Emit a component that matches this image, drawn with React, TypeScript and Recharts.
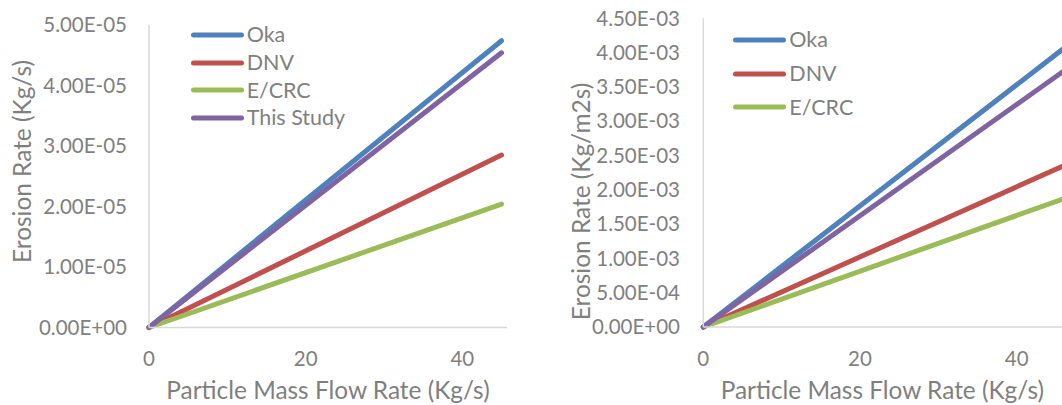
import React from 'react';
import { LineChart, Line, XAxis, YAxis, Legend } from 'recharts';

// ---- data ----
const seriesNames = ['Oka', 'DNV', 'E/CRC', 'This Study'];
const seriesColors = ['#4f81bd', '#c0504d', '#9bbb59', '#8064a2'];

const leftFlow = [0, 45];
const leftOka = [0, 4.74e-5];
const leftDnv = [0, 2.85e-5];
const leftEcrc = [0, 2.04e-5];
const leftThisStudy = [0, 4.54e-5];

const rightFlow = [0, 46];
const rightOka = [0, 4.06e-3];
const rightDnv = [0, 2.35e-3];
const rightEcrc = [0, 1.87e-3];
const rightThisStudy = [0, 3.73e-3];

const xTicks = [0, 20, 40];
const leftYTicks = [0, 1e-5, 2e-5, 3e-5, 4e-5, 5e-5];
const rightYTicks = [0, 5e-4, 1e-3, 1.5e-3, 2e-3, 2.5e-3, 3e-3, 3.5e-3, 4e-3, 4.5e-3];

const xTitle = 'Particle Mass Flow Rate (Kg/s)';
const leftYTitle = 'Erosion Rate (Kg/s)';
const rightYTitle = 'Erosion Rate (Kg/m2s)';

const leftRows = leftFlow.map((f, i) => ({
  flow: f,
  oka: leftOka[i],
  dnv: leftDnv[i],
  ecrc: leftEcrc[i],
  study: leftThisStudy[i],
}));
const rightRows = rightFlow.map((f, i) => ({
  flow: f,
  oka: rightOka[i],
  dnv: rightDnv[i],
  ecrc: rightEcrc[i],
  study: rightThisStudy[i],
}));

const keys = ['oka', 'dnv', 'ecrc', 'study'];

// ---- styling ----
const FONT = 'Lato, "Open Sans", sans-serif';
const GRAY = '#7f7f7f';
const AXIS = '#d9d9d9';

const fmt = (v: number) => {
  const [m, e] = v.toExponential(2).split('e');
  const sign = e[0] === '-' ? '-' : '+';
  const digits = e.replace(/[+-]/, '').padStart(2, '0');
  return `${m}E${sign}${digits}`;
};

const makeLegend = (rowH: number) => (props: any) => {
  const items = (props.payload || [])
    .filter((e: any) => e.type !== 'none')
    .slice()
    .sort((a: any, b: any) => seriesNames.indexOf(a.value) - seriesNames.indexOf(b.value));
  return (
    <div style={{ display: 'flex', flexDirection: 'column' }}>
      {items.map((e: any) => (
        <div key={e.value} style={{ display: 'flex', alignItems: 'center', height: rowH }}>
          <svg width={53} height={8} style={{ display: 'block' }}>
            <line x1={2.5} y1={4} x2={50.5} y2={4} stroke={e.color} strokeWidth={5} strokeLinecap="round" />
          </svg>
          <span style={{ marginLeft: 3, fontFamily: FONT, fontSize: 21.5, color: GRAY, lineHeight: 1, whiteSpace: 'nowrap' }}>
            {e.value}
          </span>
        </div>
      ))}
    </div>
  );
};

const xLabel = (cx: number, cy: number) => () => (
  <text x={cx} y={cy} dy="0.35em" textAnchor="middle" fill={GRAY} fontFamily={FONT} fontSize={24.4}>
    {xTitle}
  </text>
);

const yLabel = (text: string, cx: number, cy: number) => () => (
  <text
    x={cx}
    y={cy}
    dy="0.35em"
    textAnchor="middle"
    fill={GRAY}
    fontFamily={FONT}
    fontSize={24.4}
    transform={`rotate(-90, ${cx}, ${cy})`}
  >
    {text}
  </text>
);

const tickStyle = { fill: GRAY, fontSize: 20.5, fontFamily: FONT };

export default function App() {
  return (
    <div style={{ position: 'absolute', left: 0, top: 0, width: 1062, height: 405, overflow: 'hidden', background: '#fff' }}>
      <div style={{ position: 'absolute', left: 0, top: 0 }}>
        <LineChart width={530} height={405} data={leftRows} margin={{ top: 25, right: 23, bottom: 0, left: 0 }}>
          <XAxis
            type="number"
            dataKey="flow"
            domain={[0, 45.7]}
            ticks={xTicks}
            height={77.5}
            axisLine={{ stroke: AXIS, strokeWidth: 1.5 }}
            tickLine={false}
            tickSize={0}
            tickMargin={24}
            tick={tickStyle}
            label={xLabel(328, 390.5)}
          />
          <YAxis
            type="number"
            domain={[0, 5e-5]}
            ticks={leftYTicks}
            width={149}
            axisLine={{ stroke: AXIS, strokeWidth: 1.5 }}
            tickLine={false}
            tickSize={0}
            tickMargin={22}
            tick={tickStyle}
            tickFormatter={fmt}
            label={yLabel(leftYTitle, 22, 161.5)}
          />
          {keys.map((k, i) => (
            <Line
              key={k}
              type="linear"
              dataKey={k}
              name={seriesNames[i]}
              stroke={seriesColors[i]}
              strokeWidth={5}
              strokeLinecap="round"
              dot={false}
              activeDot={false}
              isAnimationActive={false}
            />
          ))}
          <Legend
            layout="vertical"
            align="center"
            verticalAlign="middle"
            wrapperStyle={{ left: 190.7, top: 21.2, width: 'auto' }}
            content={makeLegend(27.7)}
          />
        </LineChart>
      </div>
      <div style={{ position: 'absolute', left: 530, top: 0 }}>
        <LineChart width={600} height={405} data={rightRows} margin={{ top: 18.3, right: 35, bottom: 0, left: 0 }}>
          <XAxis
            type="number"
            dataKey="flow"
            domain={[0, 50]}
            ticks={xTicks}
            height={78}
            axisLine={{ stroke: AXIS, strokeWidth: 1.5 }}
            tickLine={false}
            tickSize={0}
            tickMargin={24}
            tick={tickStyle}
            label={xLabel(173.3 + 179, 390.5)}
          />
          <YAxis
            type="number"
            domain={[0, 4.5e-3]}
            ticks={rightYTicks}
            width={173.3}
            axisLine={{ stroke: AXIS, strokeWidth: 1.5 }}
            tickLine={false}
            tickSize={0}
            tickMargin={23.3}
            tick={tickStyle}
            tickFormatter={fmt}
            label={yLabel(rightYTitle, 51.7, 201.5)}
          />
          {keys.map((k, i) => (
            <Line
              key={k}
              type="linear"
              dataKey={k}
              name={seriesNames[i]}
              stroke={seriesColors[i]}
              strokeWidth={5}
              strokeLinecap="round"
              dot={false}
              activeDot={false}
              legendType={k === 'study' ? 'none' : 'line'}
              isAnimationActive={false}
            />
          ))}
          <Legend
            layout="vertical"
            align="center"
            verticalAlign="middle"
            wrapperStyle={{ left: 203.3, top: 23.2, width: 'auto' }}
            content={makeLegend(33.7)}
          />
        </LineChart>
      </div>
    </div>
  );
}
